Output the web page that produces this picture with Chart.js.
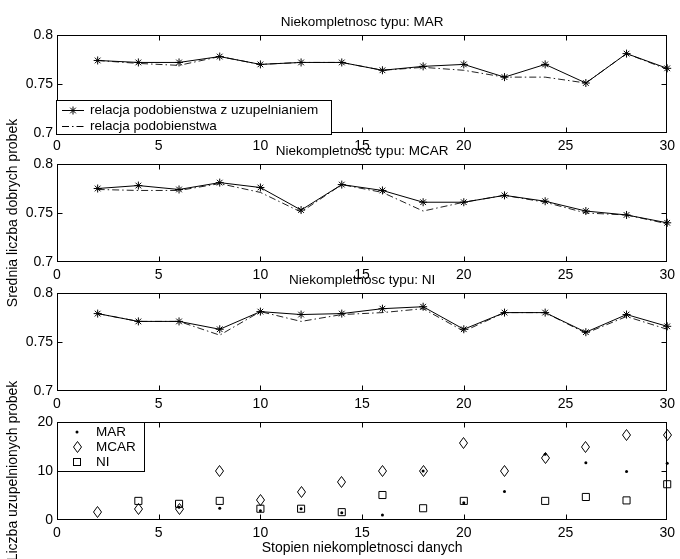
<!DOCTYPE html>
<html><head><meta charset="utf-8">
<script src="https://cdn.jsdelivr.net/npm/chart.js@4/dist/chart.umd.min.js"></script>
<style>
html,body{margin:0;padding:0;background:#fff;}
#wrap{position:relative;width:680px;height:559px;overflow:hidden;background:#fff;}
canvas{position:absolute;left:0;top:0;}
</style></head><body><div id="wrap">
<canvas id="c1" width="680" height="559" style="width:680px;height:559px"></canvas>
<canvas id="c2" width="680" height="559" style="width:680px;height:559px"></canvas>
<canvas id="c3" width="680" height="559" style="width:680px;height:559px"></canvas>
<canvas id="c4" width="680" height="559" style="width:680px;height:559px"></canvas>
</div>
<script>
// ---- data ----
const degrees = [2,4,6,8,10,12,14,16,18,20,22,24,26,28,30];
const xTickValues = [0,5,10,15,20,25,30];

const marWithImputation  = [0.774,0.772,0.772,0.778,0.770,0.772,0.772,0.764,0.768,0.770,0.757,0.770,0.751,0.781,0.766];
const marPlain           = [0.774,0.771,0.769,0.778,0.770,0.772,0.772,0.764,0.767,0.764,0.757,0.757,0.751,0.781,0.765];
const mcarWithImputation = [0.775,0.778,0.774,0.781,0.776,0.753,0.779,0.773,0.761,0.761,0.768,0.762,0.752,0.748,0.740];
const mcarPlain          = [0.774,0.773,0.773,0.780,0.771,0.751,0.779,0.771,0.752,0.761,0.768,0.761,0.750,0.748,0.739];
const niWithImputation   = [0.779,0.771,0.771,0.763,0.781,0.778,0.779,0.784,0.786,0.763,0.780,0.780,0.760,0.778,0.766];
const niPlain            = [0.779,0.771,0.771,0.757,0.781,0.771,0.778,0.780,0.784,0.761,0.780,0.780,0.759,0.776,0.763];

const countMAR  = [null,null,2.6,2.4,1.9,2.3,1.5,1.0,10,3.5,5.8,13.4,11.7,9.9,11.6];
const countMCAR = [1.6,2.3,2.3,10,4.0,5.8,7.8,10,10,15.8,10,12.6,15,17.4,17.4];
const countNI   = [null,3.9,3.3,3.9,2.3,2.3,1.6,5.1,2.4,3.9,null,3.9,4.7,4.0,7.3];

const panelTitles = ['Niekompletnosc typu: MAR','Niekompletnosc typu: MCAR','Niekompletnosc typu: NI'];
const seriesLabels = ['relacja podobienstwa z uzupelnianiem','relacja podobienstwa'];
const countLabels = ['MAR','MCAR','NI'];
const yLabelTop = 'Srednia liczba dobrych probek';
const yLabelBottom = 'Liczba uzupelnionych probek';
const xLabel = 'Stopien niekompletnosci danych';

// ---- styling ----
const FAM = "'Liberation Sans', Arial, Helvetica, sans-serif";
Chart.defaults.font.family = FAM;
Chart.defaults.font.size = 14;
Chart.defaults.color = '#000';
Chart.defaults.animation = false;
const PAGE_H = 559;

const toPts = (ys) => degrees.map((x,i)=>({x, y: ys[i]}));

function makeDiamond(){
  const c=document.createElement('canvas'); c.width=9; c.height=12;
  const g=c.getContext('2d'); g.strokeStyle='#000'; g.lineWidth=1;
  g.beginPath(); g.moveTo(4.5,0.5); g.lineTo(8.5,6); g.lineTo(4.5,11.5); g.lineTo(0.5,6); g.closePath(); g.stroke();
  return c;
}
const diamond = makeDiamond();
const DASH = [7,3,1.5,3];

function drawStar(ctx,x,y,r){
  const d=r*Math.SQRT1_2;
  ctx.beginPath();
  ctx.moveTo(x-r,y); ctx.lineTo(x+r,y); ctx.moveTo(x,y-r); ctx.lineTo(x,y+r);
  ctx.moveTo(x-d,y-d); ctx.lineTo(x+d,y+d); ctx.moveTo(x-d,y+d); ctx.lineTo(x+d,y-d);
  ctx.stroke();
}

const matlabFrame = {
  id:'matlabFrame',
  beforeDatasetsDraw(chart){ chart.ctx.imageSmoothingEnabled = false; },
  afterDatasetsDraw(chart, args, opts){
    const {ctx, chartArea:a} = chart;
    const xs = chart.scales.x, ys = chart.scales.y;
    ctx.save();
    ctx.strokeStyle='#000'; ctx.lineWidth=1; ctx.setLineDash([]);
    const L=Math.round(a.left)+0.5, R=Math.round(a.right)-0.5, T=Math.round(a.top)+0.5, B=Math.round(a.bottom)-0.5;
    ctx.strokeRect(L,T,R-L,B-T);
    const TL=5;
    const clampX = (p)=>Math.min(R, Math.max(L, p));
    const clampY = (p)=>Math.min(B, Math.max(T, p));
    ctx.beginPath();
    xs.ticks.forEach(t=>{ const p=clampX(Math.round(xs.getPixelForValue(t.value))+0.5);
      ctx.moveTo(p,T); ctx.lineTo(p,T+TL); ctx.moveTo(p,B); ctx.lineTo(p,B-TL); });
    ys.ticks.forEach(t=>{ const p=clampY(Math.round(ys.getPixelForValue(t.value))+0.5);
      ctx.moveTo(L,p); ctx.lineTo(L+TL,p); ctx.moveTo(R,p); ctx.lineTo(R-TL,p); });
    ctx.stroke();
    if (opts.title){
      ctx.font = "13.5px " + FAM; ctx.fillStyle='#000'; ctx.textAlign='center'; ctx.textBaseline='middle';
      ctx.fillText(opts.title, (a.left+a.right)/2, a.top-13);
    }
    const lg = opts.legend;
    if (lg){
      const bx = a.left + lg.dx, by = (lg.anchor==='bottom' ? a.bottom - lg.h : a.top) + lg.dy;
      ctx.fillStyle='#fff'; ctx.fillRect(bx,by,lg.w,lg.h);
      ctx.strokeStyle='#000'; ctx.lineWidth=1;
      ctx.strokeRect(Math.round(bx)+0.5, Math.round(by)+0.5, lg.w, lg.h);
      ctx.font = "13.5px " + FAM; ctx.textAlign='left'; ctx.textBaseline='middle';
      lg.rows.forEach((row,i)=>{
        const yy = by + lg.first + i*lg.step;
        const ds = chart.data.datasets[row.ds];
        ctx.strokeStyle='#000'; ctx.fillStyle='#000';
        if (row.kind==='line'){
          ctx.setLineDash(ds.borderDash||[]); ctx.lineWidth=1;
          ctx.beginPath(); ctx.moveTo(bx+lg.sx0, yy+0.5); ctx.lineTo(bx+lg.sx1, yy+0.5); ctx.stroke();
          ctx.setLineDash([]);
          if (ds.pointRadius>0) drawStar(ctx, (bx+lg.sx0+bx+lg.sx1)/2, yy+0.5, ds.pointRadius);
        } else if (row.kind==='dot'){
          ctx.beginPath(); ctx.arc(bx+lg.mx, yy, ds.pointRadius, 0, Math.PI*2); ctx.fill();
        } else if (row.kind==='diamond'){
          ctx.drawImage(diamond, Math.round(bx+lg.mx-diamond.width/2), Math.round(yy-diamond.height/2));
        } else if (row.kind==='square'){
          const s = ds.pointRadius*Math.SQRT1_2;
          ctx.strokeRect(Math.round(bx+lg.mx-s)+0.5, Math.round(yy-s)+0.5, Math.round(2*s), Math.round(2*s));
        }
        ctx.fillStyle='#000';
        ctx.fillText(row.label, bx+lg.tx, yy);
      });
    }
    ctx.restore();
  }
};

function xScale(height, title){
  return {
    type:'linear', min:0, max:30,
    afterBuildTicks(s){ s.ticks = xTickValues.map(v=>({value:v})); },
    ticks:{ padding:5, maxRotation:0, autoSkip:false, callback:(v)=>String(v), font:{size:14} },
    grid:{ display:false, drawTicks:false }, border:{ display:false },
    title: title ? { display:true, text:title, font:{size:14}, padding:{top:0,bottom:2} } : {display:false},
    afterFit(s){ s.height = height; }
  };
}
function yScale(min,max,step,title){
  return {
    type:'linear', min, max,
    ticks:{ stepSize:step, padding:4, font:{size:14}, callback:(v)=>String(+v.toFixed(2)) },
    grid:{ display:false, drawTicks:false }, border:{ display:false },
    title: title ? { display:true, text:title, font:{size:14}, padding:{top:5,bottom:0} } : {display:false},
    afterFit(s){ s.width = 57; }
  };
}

// panel placement (pixel rows of each axes box)
function pad(top, bottom, xh){ return { top, right:8, left:0, bottom: PAGE_H - bottom - xh }; }

function linePanel(id, withImp, plain, title, ytitle, legend, top, bottom){
  return new Chart(document.getElementById(id), {
    type:'line',
    data:{ datasets:[
      { label:seriesLabels[0], data:toPts(withImp), borderColor:'#000', borderWidth:1, tension:0,
        pointStyle:'star', pointRadius:4, pointBorderWidth:1, pointBorderColor:'#000', pointBackgroundColor:'#000', clip:false },
      { label:seriesLabels[1], data:toPts(plain), borderColor:'#222', borderWidth:1, borderDash:DASH, tension:0,
        pointRadius:0, clip:false }
    ]},
    options:{
      responsive:false, devicePixelRatio:1, animation:false,
      layout:{ padding: pad(top, bottom, 24) },
      plugins:{ legend:{display:false}, tooltip:{enabled:false}, title:{display:false},
        matlabFrame:{ title, legend } },
      scales:{ x:xScale(24), y:yScale(0.7,0.8,0.05,ytitle) }
    },
    plugins:[matlabFrame]
  });
}

linePanel('c1', marWithImputation, marPlain, panelTitles[0], null, {
  anchor:'bottom', dx:-1, dy:1, w:275, h:34, first:10, step:16, sx0:6, sx1:28, tx:34,
  rows:[{ds:0,kind:'line',label:seriesLabels[0]},{ds:1,kind:'line',label:seriesLabels[1]}]
}, 35, 133);
linePanel('c2', mcarWithImputation, mcarPlain, panelTitles[1], yLabelTop, null, 164, 262);
linePanel('c3', niWithImputation, niPlain, panelTitles[2], null, null, 293, 391);

new Chart(document.getElementById('c4'), {
  type:'scatter',
  data:{ datasets:[
    { label:countLabels[0], data:toPts(countMAR), pointStyle:'circle', pointRadius:1.5, pointBorderWidth:0,
      pointBackgroundColor:'#000', pointBorderColor:'#000', showLine:false, clip:false },
    { label:countLabels[1], data:toPts(countMCAR), pointStyle:diamond, pointRadius:5, showLine:false, clip:false },
    { label:countLabels[2], data:toPts(countNI), pointStyle:'rect', pointRadius:5, pointBorderWidth:1,
      pointBorderColor:'#000', pointBackgroundColor:'rgba(0,0,0,0)', showLine:false, clip:false }
  ]},
  options:{
    responsive:false, devicePixelRatio:1, animation:false,
    layout:{ padding: pad(422, 520, 39) },
    plugins:{ legend:{display:false}, tooltip:{enabled:false}, title:{display:false},
      matlabFrame:{ title:null, legend:{
        anchor:'top', dx:0, dy:0, w:87, h:49, first:10, step:15, mx:20, tx:39,
        rows:[{ds:0,kind:'dot',label:countLabels[0]},{ds:1,kind:'diamond',label:countLabels[1]},{ds:2,kind:'square',label:countLabels[2]}]
      } } },
    scales:{ x:xScale(39, xLabel), y:yScale(0,20,10,yLabelBottom) }
  },
  plugins:[matlabFrame]
});
</script>
</body></html>
